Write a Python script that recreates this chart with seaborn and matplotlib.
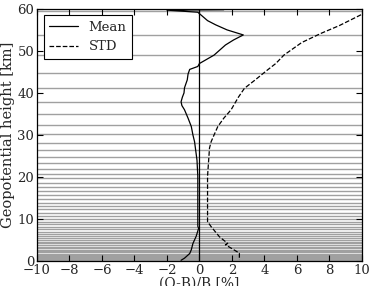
import matplotlib
matplotlib.use("Agg")
import matplotlib.pyplot as plt
import seaborn as sns
import pandas as pd

# Model level heights [km]
levels = [59.5, 53.8, 49.0, 44.8, 41.2, 37.9, 35.0, 32.4, 30.2, 28.2, 26.4, 24.8,
          23.3, 22.0, 20.8, 19.7, 18.6, 17.6, 16.6, 15.7, 14.8, 13.9, 13.1, 12.3,
          11.5, 10.8, 10.1, 9.4, 8.8, 8.2, 7.6, 7.0, 6.5, 6.0, 5.5, 5.0, 4.6, 4.2,
          3.8, 3.4, 3.05, 2.7, 2.4, 2.1, 1.8, 1.55, 1.3, 1.1, 0.9, 0.72, 0.56,
          0.42, 0.3, 0.2, 0.12, 0.06, 0.02]

# Mean (O-B)/B profile
mean_height = [59.8, 59.7, 59.2, 58.2, 57.2, 56.2, 55.0, 53.8, 52.6, 51.4, 49.0,
               47.0, 46.3, 45.6, 44.5, 43.1, 42.0, 41.2, 40.0, 39.0, 37.9, 37.0,
               36.0, 34.0, 32.0, 30.0, 28.4, 24.0, 20.2, 14.0, 8.3, 7.8, 5.9, 4.2,
               2.7, 1.8, 0.7, 0.2]
mean_value = [1.5, -2.0, -0.1, 0.2, 0.5, 1.0, 1.7, 2.7, 2.1, 1.6, 0.9,
              0.0, -0.1, -0.6, -0.7, -0.75, -0.85, -0.92, -0.95, -1.05, -1.13, -1.08,
              -0.92, -0.7, -0.5, -0.4, -0.3, -0.15, -0.1, -0.1, -0.1, -0.05, -0.2,
              -0.4, -0.5, -0.6, -0.92, -1.13]

# STD profile
std_height = [58.6, 56.0, 54.2, 52.0, 49.0, 47.0, 45.5, 43.0, 41.1, 39.0, 36.0,
              34.0, 32.0, 30.0, 28.4, 26.9, 20.2, 9.4, 8.2, 5.8, 4.2, 3.9, 1.9, 0.3]
std_value = [9.95, 8.6, 7.5, 6.3, 5.2, 4.7, 4.2, 3.4, 2.77, 2.4, 1.95,
             1.5, 1.13, 0.9, 0.72, 0.62, 0.5, 0.5, 0.72, 1.23, 1.74, 1.6, 2.46, 2.46]

sns.set_style("ticks")
plt.rcParams["font.family"] = ["DejaVu Serif"]
plt.rcParams["xtick.direction"] = "in"
plt.rcParams["ytick.direction"] = "in"

fig = plt.figure(figsize=(3.7, 2.86), dpi=100)
ax = fig.add_axes([0.1, 0.087, 0.878, 0.882])

for h in levels:
    ax.axhline(h, color="#a0a0a0", lw=1.0, zorder=0.5)
ax.axvline(0, color="black", lw=0.9, zorder=1)

df_m = pd.DataFrame({"x": mean_value, "y": mean_height})
df_s = pd.DataFrame({"x": std_value, "y": std_height})
sns.lineplot(data=df_m, x="x", y="y", sort=False, estimator=None, color="black",
             lw=0.9, ax=ax, label="Mean", zorder=3)
sns.lineplot(data=df_s, x="x", y="y", sort=False, estimator=None, color="black",
             lw=0.9, ls="--", ax=ax, label="STD", zorder=3)

ax.set_xlim(-10, 10)
ax.set_ylim(0, 60)
ax.set_xticks(range(-10, 11, 2))
ax.set_yticks(range(0, 61, 10))
ax.tick_params(axis="both", which="both", labelsize=9.5, top=True, right=True,
               length=4, width=0.8, color="black", pad=2)
for s in ax.spines.values():
    s.set_color("black")
    s.set_linewidth(0.9)
ax.set_xlabel("(O-B)/B [%]", fontsize=10, labelpad=0)
ax.set_ylabel("Geopotential height [km]", fontsize=10.5, labelpad=2)

leg = ax.legend(loc="upper left", fontsize=9.5, frameon=True, fancybox=False,
                edgecolor="black", framealpha=1, borderpad=0.4, handlelength=2.2,
                labelspacing=0.5, borderaxespad=0.5)
leg.get_frame().set_linewidth(0.8)

fig.savefig("out.png", dpi=100)
